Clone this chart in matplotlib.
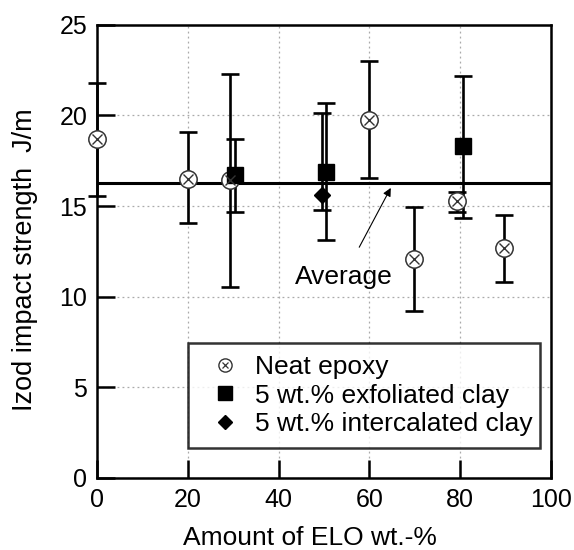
import matplotlib
matplotlib.use("Agg")
import matplotlib.pyplot as plt
from matplotlib.lines import Line2D

plt.rcParams['font.family'] = ['Liberation Sans', 'DejaVu Sans']

# Neat epoxy
neat_x = [0, 20, 29.3, 59.9, 69.8, 79.3, 89.6]
neat_y = [18.7, 16.5, 16.45, 19.75, 12.1, 15.3, 12.7]
neat_hi = [21.8, 19.1, 22.3, 23.0, 14.95, 15.8, 14.5]
neat_lo = [15.55, 14.05, 10.55, 16.55, 9.2, 14.65, 10.8]

# 5 wt.% exfoliated clay
exf_x = [30.5, 50.5, 80.5]
exf_y = [16.7, 16.9, 18.3]
exf_hi = [18.7, 20.7, 22.2]
exf_lo = [14.65, 13.15, 14.35]

# 5 wt.% intercalated clay
int_x = [49.5]
int_y = [15.6]
int_hi = [20.15]
int_lo = [14.8]

average = 16.25

fig = plt.figure(figsize=(5.74, 5.5), dpi=100)
ax = fig.add_axes([0.169, 0.131, 0.791, 0.824])

def errs(y, hi, lo):
    return [[a - b for a, b in zip(y, lo)], [b - a for a, b in zip(y, hi)]]

eb_kw = dict(fmt='none', ecolor='black', elinewidth=1.9, capsize=6.5, capthick=1.9, clip_on=False, zorder=3)
ax.errorbar(neat_x, neat_y, yerr=errs(neat_y, neat_hi, neat_lo), **eb_kw)
ax.errorbar(exf_x, exf_y, yerr=errs(exf_y, exf_hi, exf_lo), **eb_kw)
ax.errorbar(int_x, int_y, yerr=errs(int_y, int_hi, int_lo), **eb_kw)

ax.plot(neat_x, neat_y, 'o', ms=12.5, mfc='white', mec='#333333', mew=1.1, clip_on=False, zorder=4)
ax.plot(neat_x, neat_y, 'x', ms=6.5, mec='#333333', mew=1.0, clip_on=False, zorder=5)
ax.plot(exf_x, exf_y, 's', ms=11.5, color='black', zorder=4)
ax.plot(int_x, int_y, 'D', ms=8, color='black', zorder=4)

ax.axhline(average, color='black', lw=2.2, zorder=2)

ax.annotate('Average', xy=(64.7, 16.0), xytext=(54.3, 11.1), ha='center', va='center',
            fontsize=19, arrowprops=dict(arrowstyle='-|>', color='black', lw=0.8,
                                         mutation_scale=12, shrinkA=12, shrinkB=0))

ax.set_xlim(0, 100)
ax.set_ylim(0, 25)
ax.set_xticks([0, 20, 40, 60, 80, 100])
ax.set_yticks([0, 5, 10, 15, 20, 25])
ax.grid(True, color='#aaaaaa', linestyle=(0, (1.5, 2.5)), lw=0.9)
ax.set_axisbelow(True)
ax.tick_params(direction='in', length=13, width=1.8, labelsize=18, pad=7)
for s in ax.spines.values():
    s.set_linewidth(1.8)

ax.set_xlabel('Amount of ELO wt.-%', fontsize=19, va='center')
ax.set_ylabel('Izod impact strength  J/m', fontsize=19.5, va='center')
ax.xaxis.set_label_coords(0.47, -0.133)
ax.yaxis.set_label_coords(-0.159, 0.481)

h_neat = (Line2D([], [], marker='o', ls='none', ms=9.5, mfc='white', mec='#333333', mew=1.0),
          Line2D([], [], marker='x', ls='none', ms=5, mec='#333333', mew=0.9))
h_exf = Line2D([], [], marker='s', ls='none', ms=9.5, color='black')
h_int = Line2D([], [], marker='D', ls='none', ms=7, color='black')
leg = ax.legend([h_neat, h_exf, h_int], ['Neat epoxy', '5 wt.% exfoliated clay', '5 wt.% intercalated clay'],
                loc='upper left', bbox_to_anchor=(0.2, 0.298, 0.776, 0.0), mode='expand',
                borderaxespad=0, fontsize=19, frameon=True, fancybox=False, edgecolor='black',
                handlelength=1.9, handletextpad=0.2, labelspacing=0.18, borderpad=0.45)
leg.get_frame().set_linewidth(1.8)

fig.savefig('out.png', dpi=100)
